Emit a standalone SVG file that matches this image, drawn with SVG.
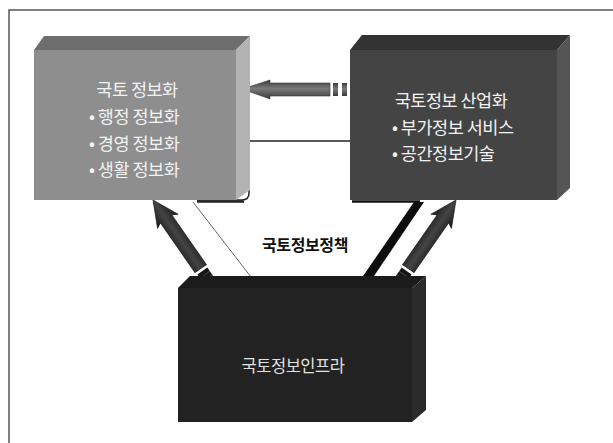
<svg xmlns="http://www.w3.org/2000/svg" width="613" height="443" viewBox="0 0 613 443">
<style>
.t{font-family:"Noto Sans CJK KR","Noto Sans",sans-serif;font-size:17.5px;fill:#f2f2f2;letter-spacing:-0.5px}
.lbl{font-family:"Noto Sans CJK KR","Noto Sans",sans-serif;font-size:16px;font-weight:bold;fill:#111;letter-spacing:-0.4px}
.frame{stroke:#555;stroke-width:1.5;fill:none}
</style>
<defs>
<linearGradient id="gH" x1="0" y1="0" x2="0" y2="1">
<stop offset="0" stop-color="#3a3a3a"/><stop offset="0.45" stop-color="#7a7a7a"/><stop offset="1" stop-color="#3a3a3a"/>
</linearGradient>
<linearGradient id="gU" x1="0" y1="0" x2="1" y2="0">
<stop offset="0" stop-color="#1a1a1a"/><stop offset="0.5" stop-color="#444"/><stop offset="1" stop-color="#1a1a1a"/>
</linearGradient>
<g id="upArrow">
<path d="M0,0 L12.5,26 L7,23 L7,84 L-7,84 L-7,23 L-12.5,26 Z" fill="url(#gU)" stroke="#111" stroke-width="0.6"/>
<rect x="-7.5" y="84" width="15" height="2.5" fill="#fff"/>
<rect x="-6" y="86.5" width="12" height="13" fill="#151515"/>
<line x1="-6" y1="91" x2="6" y2="91" stroke="#555" stroke-width="0.8"/>
<line x1="-6" y1="95" x2="6" y2="95" stroke="#555" stroke-width="0.8"/>
</g>
</defs>
<rect width="613" height="443" fill="#fff"/>
<path class="frame" d="M9,443 V10 H613"/>

<g id="connectors">
<path d="M350,141 H249 V193 Q249,200 242,200 H197" fill="none" stroke="#222" stroke-width="1.5"/>
<path d="M197,201.5 H244" stroke="#222" stroke-width="2.5"/>
<line x1="193" y1="202" x2="251" y2="277" stroke="#666" stroke-width="1"/>
<polygon points="414,202 424,202 372,279 361,279" fill="#0d0d0d"/>
<line x1="352" y1="201.5" x2="420" y2="201.5" stroke="#111" stroke-width="2.5"/>
<g id="arrow-left">
<path d="M242,89 L270,80 L270,83 L330,83 L330,96 L270,96 L270,99 Z" fill="url(#gH)" stroke="#333" stroke-width="0.6"/>
<rect x="333" y="83" width="5" height="13" fill="url(#gH)"/>
<rect x="342" y="83" width="5" height="13" fill="url(#gH)"/>
</g>
<use href="#upArrow" transform="translate(153,200) rotate(-34.8)"/>
<use href="#upArrow" transform="translate(456,200) rotate(34.8)"/>
</g>

<g id="node-left">
<polygon points="34,50 44,36 250,36 236,50" fill="#6e6e6e"/>
<polygon points="236,50 250,36 250,190 236,200" fill="#b3b3b3"/>
<rect x="34" y="50" width="202" height="150" fill="#8e8e8e"/>
<text class="t" x="137" y="96" text-anchor="middle">국토 정보화</text>
<text class="t" x="89" y="123">• 행정 정보화</text>
<text class="t" x="89" y="150">• 경영 정보화</text>
<text class="t" x="89" y="176">• 생활 정보화</text>
</g>

<g id="node-right">
<polygon points="350,50 362,35 570,35 557,50" fill="#333"/>
<polygon points="557,50 570,35 570,188 557,200" fill="#555"/>
<rect x="350" y="50" width="207" height="150" fill="#444"/>
<text class="t" x="451" y="107" text-anchor="middle">국토정보 산업화</text>
<text class="t" x="392" y="134">• 부가정보 서비스</text>
<text class="t" x="392" y="160">• 공간정보기술</text>
</g>

<g id="node-bottom">
<polygon points="178,288 190,276 426,276 412,288" fill="#1b1b1b"/>
<polygon points="412,288 426,276 426,410 412,422" fill="#2b2b2b"/>
<rect x="178" y="288" width="234" height="134" fill="#222"/>
<text class="t" x="293" y="372" text-anchor="middle" style="fill:#e0e0e0;font-size:16.5px">국토정보인프라</text>
</g>

<text class="lbl" x="305" y="251" text-anchor="middle">국토정보정책</text>
</svg>
